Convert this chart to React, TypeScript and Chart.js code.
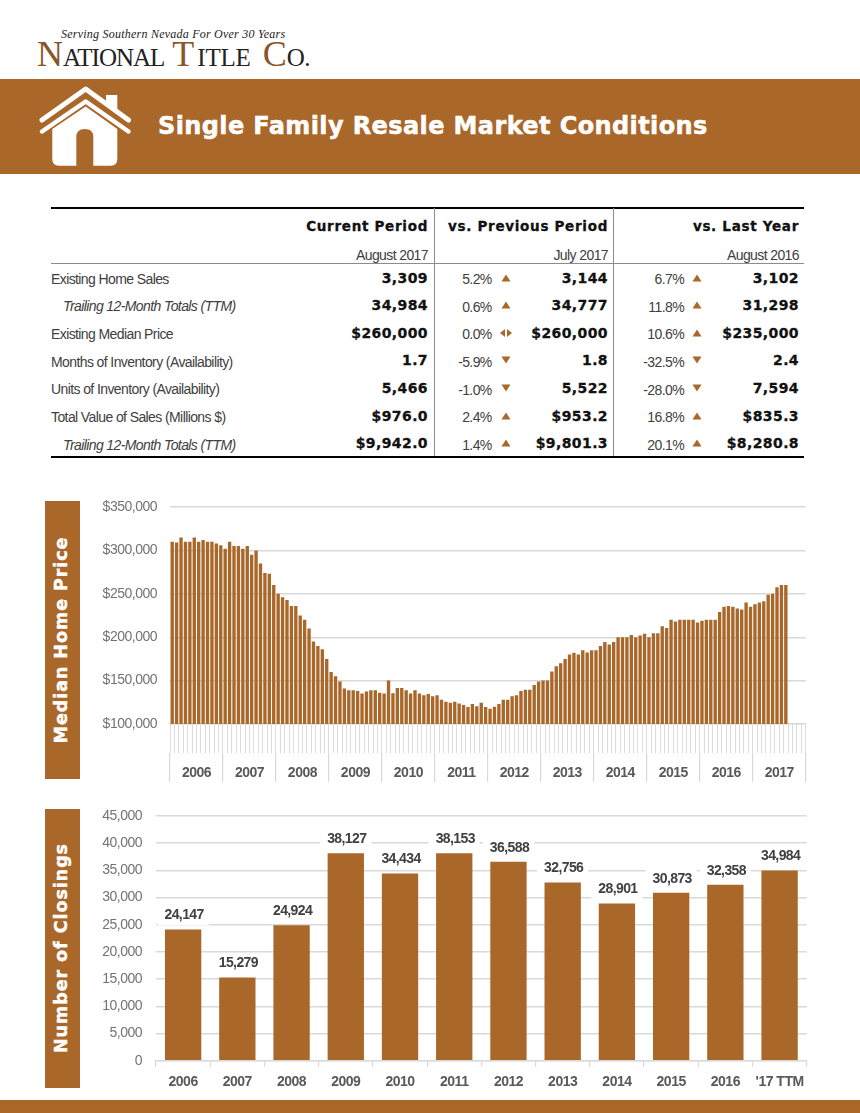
import React, { useEffect, useRef } from "react";
import { Chart, registerables } from "chart.js";

Chart.register(...registerables);

const BROWN = "#A9672A";
const GRID = "#d9d9d9";

const yearLabels = ["2006", "2007", "2008", "2009", "2010", "2011", "2012", "2013", "2014", "2015", "2016", "2017"];
const monthNames = ["Jan", "Feb", "Mar", "Apr", "May", "Jun", "Jul", "Aug", "Sep", "Oct", "Nov", "Dec"];

const price2006 = [310000, 309000, 315000, 310000, 310000, 315000, 310000, 312000, 310000, 310000, 308000, 306000];
const price2007 = [302000, 310000, 305000, 305000, 302000, 305000, 295000, 300000, 285000, 274000, 273000, 260000];
const price2008 = [250000, 246000, 243000, 236000, 236000, 225000, 220000, 210000, 195000, 190000, 186000, 175000];
const price2009 = [160000, 155000, 149000, 141000, 139000, 139000, 138000, 135000, 137500, 139000, 139000, 136000];
const price2010 = [135000, 150000, 135500, 141500, 141500, 139000, 135000, 139000, 135000, 133000, 134500, 132000];
const price2011 = [133000, 128000, 125500, 124500, 125500, 123500, 122000, 119500, 123000, 120500, 124500, 119500];
const price2012 = [117500, 120000, 123000, 128000, 128000, 132000, 133000, 138000, 139500, 139500, 145000, 149000];
const price2013 = [150000, 150000, 160500, 166500, 170000, 175000, 180000, 182000, 180000, 185000, 182500, 185000];
const price2014 = [185000, 190000, 194500, 191500, 194500, 200000, 200000, 200000, 202500, 200000, 202000, 204000];
const price2015 = [200000, 204500, 204500, 212500, 210500, 220000, 218000, 220000, 220000, 220000, 220000, 217000];
const price2016 = [219000, 220000, 220000, 220000, 229000, 235000, 236000, 235000, 233000, 232000, 240000, 235000];
const price2017 = [238000, 240000, 241500, 249000, 250000, 257500, 260000, 260000];
const medianPrices = [
  ...price2006, ...price2007, ...price2008, ...price2009, ...price2010, ...price2011,
  ...price2012, ...price2013, ...price2014, ...price2015, ...price2016, ...price2017,
];
const monthLabels = yearLabels.flatMap((y) => monthNames.map((m) => `${m} ${y}`));

const closingYears = ["2006", "2007", "2008", "2009", "2010", "2011", "2012", "2013", "2014", "2015", "2016", "'17 TTM"];
const closings = [24147, 15279, 24924, 38127, 34434, 38153, 36588, 32756, 28901, 30873, 32358, 34984];

const rowLabels = [
  "Existing Home Sales",
  "Trailing 12-Month Totals (TTM)",
  "Existing Median Price",
  "Months of Inventory (Availability)",
  "Units of Inventory (Availability)",
  "Total Value of Sales (Millions $)",
  "Trailing 12-Month Totals (TTM)",
];
const rowItalic = [false, true, false, false, false, false, true];
const currentValues = ["3,309", "34,984", "$260,000", "1.7", "5,466", "$976.0", "$9,942.0"];
const prevPct = ["5.2%", "0.6%", "0.0%", "-5.9%", "-1.0%", "2.4%", "1.4%"];
const prevDir = ["up", "up", "flat", "down", "down", "up", "up"];
const prevValues = ["3,144", "34,777", "$260,000", "1.8", "5,522", "$953.2", "$9,801.3"];
const lastPct = ["6.7%", "11.8%", "10.6%", "-32.5%", "-28.0%", "16.8%", "20.1%"];
const lastDir = ["up", "up", "up", "down", "down", "up", "up"];
const lastValues = ["3,102", "31,298", "$235,000", "2.4", "7,594", "$835.3", "$8,280.8"];

const SANS = "'Liberation Sans', Arial, sans-serif";
const WIDE = "'DejaVu Sans', Verdana, sans-serif";

function Txt(props: { x: number; y: number; right?: boolean; style?: React.CSSProperties; children: React.ReactNode }) {
  const { x, y, right, style, children } = props;
  const pos: React.CSSProperties = right ? { right: 860 - x } : { left: x };
  return (
    <div
      style={{
        position: "absolute",
        top: y,
        transform: "translateY(-50%)",
        whiteSpace: "nowrap",
        lineHeight: 1,
        ...pos,
        ...style,
      }}
    >
      {children}
    </div>
  );
}

function Arrow({ cx, cy, dir }: { cx: number; cy: number; dir: string }) {
  const pts =
    dir === "up"
      ? ["-4.5,3.5 4.5,3.5 0,-3.5"]
      : dir === "down"
      ? ["-4.5,-3.5 4.5,-3.5 0,3.5"]
      : ["-1,-4 -1,4 -6,0", "1,-4 1,4 6,0"];
  return (
    <svg style={{ position: "absolute", left: cx - 8, top: cy - 8 }} width={16} height={16} viewBox="-8 -8 16 16">
      {pts.map((p) => (
        <polygon key={p} points={p} fill={BROWN} />
      ))}
    </svg>
  );
}

function Box(props: { x: number; y: number; w: number; h: number; c: string }) {
  return <div style={{ position: "absolute", left: props.x, top: props.y, width: props.w, height: props.h, background: props.c }} />;
}

function SideLabel({ top, height, text }: { top: number; height: number; text: string }) {
  return (
    <div style={{ position: "absolute", left: 45, top, width: 34.5, height, background: BROWN }}>
      <div
        style={{
          position: "absolute",
          left: "calc(50% - 1.5px)",
          top: "50%",
          transform: "translate(-50%,-50%) rotate(-90deg)",
          whiteSpace: "nowrap",
          color: "#fff",
          fontFamily: WIDE,
          fontWeight: 700,
          fontSize: 17.5,
          letterSpacing: 0.95,
          WebkitTextStroke: "0.4px #fff",
        }}
      >
        {text}
      </div>
    </div>
  );
}

const narrowTextPlugin = {
  id: "narrowText",
  beforeDraw(chart: any) {
    chart.ctx.letterSpacing = "-0.5px";
  },
};

const dataLabelPlugin = {
  id: "closingLabels",
  afterDatasetsDraw(chart: any) {
    const { ctx } = chart;
    const values = chart.data.datasets[0].data;
    ctx.save();
    ctx.font = `bold 14px ${SANS}`;
    ctx.letterSpacing = "-0.6px";
    ctx.textAlign = "center";
    ctx.textBaseline = "middle";
    chart.getDatasetMeta(0).data.forEach((bar: any, i: number) => {
      const text = Number(values[i]).toLocaleString("en-US");
      const w = ctx.measureText(text).width + 12;
      const cy = bar.y - 14;
      ctx.fillStyle = "#fff";
      ctx.fillRect(bar.x - w / 2, cy - 10, w, 20);
      ctx.fillStyle = "#404040";
      ctx.fillText(text, bar.x + 1, cy);
    });
    ctx.restore();
  },
};

export default function App() {
  const priceRef = useRef<HTMLCanvasElement>(null);
  const closeRef = useRef<HTMLCanvasElement>(null);

  useEffect(() => {
    const tickFont = { family: SANS, size: 14 };
    const yearFont = { family: SANS, size: 14, weight: "bold" as const };
    const price = new Chart(priceRef.current!, {
      type: "bar",
      data: {
        labels: monthLabels,
        datasets: [{ data: medianPrices, backgroundColor: BROWN, barPercentage: 0.76, categoryPercentage: 1 }],
      },
      options: {
        animation: false,
        responsive: false,
        devicePixelRatio: 1,
        layout: { padding: { top: 12, right: 9.3, bottom: 8, left: 0 } },
        plugins: { legend: { display: false }, tooltip: { enabled: false } },
        scales: {
          x: {
            type: "category",
            position: "bottom",
            offset: true,
            weight: 0,
            ticks: { display: false, autoSkip: false },
            grid: { offset: true, drawOnChartArea: false, tickLength: 29, color: "#dcdcdc", lineWidth: 1 },
            border: { color: GRID, width: 1.3 },
            afterFit: (s: any) => { s.height = 29; },
          },
          years: {
            type: "category",
            position: "bottom",
            labels: yearLabels,
            offset: true,
            weight: 1,
            ticks: { autoSkip: false, maxRotation: 0, padding: -17, color: "#595959", font: yearFont },
            grid: { offset: true, drawOnChartArea: false, tickLength: 29, color: GRID, lineWidth: 1.2 },
            border: { display: false },
            afterFit: (s: any) => { s.height = 29; },
          },
          y: {
            min: 100000,
            max: 350000,
            ticks: {
              stepSize: 50000,
              padding: 13,
              color: "#737373",
              font: tickFont,
              callback: (v: any) => "$" + Number(v).toLocaleString("en-US"),
            },
            grid: { color: GRID, lineWidth: 1.4, drawTicks: false },
            border: { display: false },
            afterFit: (s: any) => { s.width = 90; s.paddingTop = 0; s.paddingBottom = 0; },
          },
        },
      },
      plugins: [narrowTextPlugin],
    } as any);

    const close = new Chart(closeRef.current!, {
      type: "bar",
      data: {
        labels: closingYears,
        datasets: [{ data: closings, backgroundColor: BROWN, barPercentage: 0.67, categoryPercentage: 1 }],
      },
      options: {
        animation: false,
        responsive: false,
        devicePixelRatio: 1,
        layout: { padding: { top: 11, right: 8.3, bottom: 9.3, left: 0 } },
        plugins: { legend: { display: false }, tooltip: { enabled: false } },
        scales: {
          x: {
            ticks: { autoSkip: false, maxRotation: 0, padding: 7, color: "#595959", font: yearFont },
            grid: { offset: true, drawOnChartArea: false, tickLength: 6, color: GRID, lineWidth: 1.2 },
            border: { color: GRID, width: 1.3 },
            afterFit: (s: any) => { s.height = 30; },
          },
          y: {
            min: 0,
            max: 45000,
            ticks: {
              stepSize: 5000,
              padding: 14,
              color: "#737373",
              font: tickFont,
              callback: (v: any) => Number(v).toLocaleString("en-US"),
            },
            grid: { color: GRID, lineWidth: 1.4, drawTicks: false },
            border: { display: false },
            afterFit: (s: any) => { s.width = 66; s.paddingTop = 0; s.paddingBottom = 0; },
          },
        },
      },
      plugins: [narrowTextPlugin, dataLabelPlugin],
    } as any);

    return () => {
      price.destroy();
      close.destroy();
    };
  }, []);

  const rowY = (i: number) => 278 + i * 27.65;
  const labelStyle: React.CSSProperties = { fontFamily: SANS, fontSize: 14, letterSpacing: -0.6, color: "#404040" };
  const numStyle: React.CSSProperties = { fontFamily: WIDE, fontWeight: 700, fontSize: 14, letterSpacing: 0.4, color: "#111", WebkitTextStroke: "0.3px #111" };
  const headStyle: React.CSSProperties = { fontFamily: WIDE, fontWeight: 700, fontSize: 13.5, letterSpacing: 0.7, color: "#111", WebkitTextStroke: "0.3px #111" };
  const logoStyle: React.CSSProperties = { fontFamily: "'Liberation Serif', serif", lineHeight: 1 };
  const initial: React.CSSProperties = { color: "#8a5528", fontSize: 36 };

  return (
    <div style={{ position: "absolute", left: 0, top: 0, width: 860, height: 1113, background: "#fff", overflow: "hidden" }}>
      {/* Logo */}
      <Txt x={61} y={34} style={{ fontFamily: "'Liberation Serif', serif", fontStyle: "italic", fontSize: 12, letterSpacing: 0.23, color: "#222" }}>
        Serving Southern Nevada For Over 30 Years
      </Txt>
      <div style={{ position: "absolute", left: 37, top: 36, whiteSpace: "nowrap", color: "#222", fontSize: 25, ...logoStyle }}>
        <span style={initial}>N</span>
        <span style={{ letterSpacing: -1.0, marginRight: 8 }}>ATIONAL</span>
        <span style={initial}>T</span>
        <span style={{ letterSpacing: -0.2, marginLeft: 3, marginRight: 12 }}>ITLE</span>
        <span style={initial}>C</span>
        <span style={{ letterSpacing: -0.5 }}>O.</span>
      </div>

      {/* Header band */}
      <Box x={0} y={78.5} w={860} h={95} c={BROWN} />
      <svg style={{ position: "absolute", left: 0, top: 78 }} width={150} height={96} viewBox="0 78 150 96">
        <path d="M42 120 L85.7 89 L128.5 120" fill="none" stroke="#fff" strokeWidth={5} strokeLinecap="round" strokeLinejoin="round" />
        <path d="M42 131.5 L85.7 101.5 L128.5 131.5" fill="none" stroke="#fff" strokeWidth={4.5} strokeLinecap="round" strokeLinejoin="round" />
        <path d="M106 95 L117.3 95 L117.3 114 L106 106 Z" fill="#fff" />
        <path d="M52.3 129 L85.7 106.5 L117.3 129 L117.3 159 Q117.3 165.7 110.6 165.7 L93.3 165.7 L93.3 137 Q93.3 129 85 129 Q76.3 129 76.3 137 L76.3 165.7 L59 165.7 Q52.3 165.7 52.3 159 Z" fill="#fff" />
      </svg>
      <Txt x={158} y={125.5} style={{ fontFamily: WIDE, fontWeight: 700, fontSize: 24, letterSpacing: 0.39, color: "#fff", WebkitTextStroke: "0.5px #fff" }}>
        Single Family Resale Market Conditions
      </Txt>

      {/* Table rules */}
      <Box x={51} y={206.8} w={753} h={2.6} c="#000" />
      <Box x={51} y={263} w={753} h={1} c="#8c8c8c" />
      <Box x={51} y={455.5} w={753} h={2.6} c="#000" />
      <Box x={433.5} y={208} w={1} h={248} c="#8c8c8c" />
      <Box x={613} y={208} w={1} h={248} c="#8c8c8c" />

      {/* Table header */}
      <Txt x={428} y={227} right style={headStyle}>Current Period</Txt>
      <Txt x={608} y={227} right style={headStyle}>vs. Previous Period</Txt>
      <Txt x={799} y={227} right style={headStyle}>vs. Last Year</Txt>
      <Txt x={428} y={255} right style={labelStyle}>August 2017</Txt>
      <Txt x={608} y={255} right style={labelStyle}>July 2017</Txt>
      <Txt x={799} y={255} right style={labelStyle}>August 2016</Txt>

      {/* Table rows */}
      {rowLabels.map((label, i) => (
        <React.Fragment key={i}>
          <Txt x={rowItalic[i] ? 63 : 51} y={rowY(i) + 0.7} style={{ ...labelStyle, fontStyle: rowItalic[i] ? "italic" : "normal" }}>
            {label}
          </Txt>
          <Txt x={428} y={rowY(i) - 0.5} right style={numStyle}>{currentValues[i]}</Txt>
          <Txt x={491.7} y={rowY(i) + 1} right style={labelStyle}>{prevPct[i]}</Txt>
          <Arrow cx={505.7} cy={rowY(i) - 0.5} dir={prevDir[i]} />
          <Txt x={608} y={rowY(i) - 0.5} right style={numStyle}>{prevValues[i]}</Txt>
          <Txt x={684} y={rowY(i) + 1} right style={labelStyle}>{lastPct[i]}</Txt>
          <Arrow cx={697} cy={rowY(i) - 0.5} dir={lastDir[i]} />
          <Txt x={799} y={rowY(i) - 0.5} right style={numStyle}>{lastValues[i]}</Txt>
        </React.Fragment>
      ))}

      {/* Charts */}
      <SideLabel top={500.7} height={278} text="Median Home Price" />
      <canvas ref={priceRef} width={735} height={295} style={{ position: "absolute", left: 80, top: 495, width: 735, height: 295 }} />

      <SideLabel top={809.3} height={278.4} text="Number of Closings" />
      <canvas ref={closeRef} width={725} height={295} style={{ position: "absolute", left: 90, top: 805, width: 725, height: 295 }} />

      {/* Footer band */}
      <Box x={0} y={1100} w={860} h={13} c={BROWN} />
    </div>
  );
}
